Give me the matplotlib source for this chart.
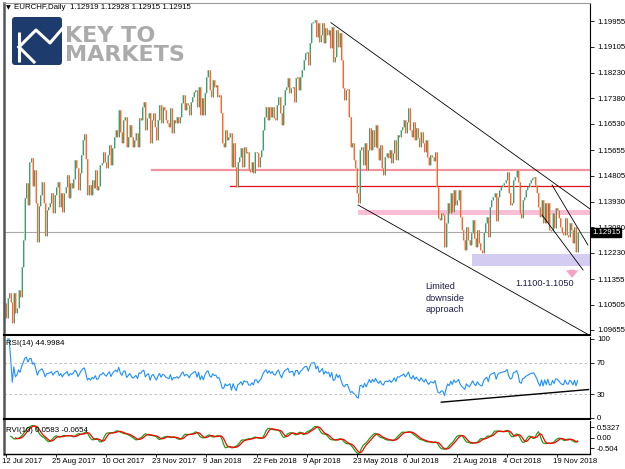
import numpy as np
import matplotlib.pyplot as plt
from matplotlib.patches import FancyBboxPatch
from matplotlib.transforms import blended_transform_factory

plt.rcParams['font.family'] = ['Liberation Sans', 'DejaVu Sans']

# daily closes of EURCHF (open = previous close)
first_open = 1.1056
closes_jul_aug17 = [1.1006, 1.1072, 1.1089, 1.1060, 1.0989, 1.1089, 1.1022, 1.1040, 1.1100, 1.1076,
                    1.1176, 1.1266, 1.1406, 1.1456, 1.1382, 1.1526, 1.1540, 1.1446, 1.1500, 1.1390,
                    1.1259, 1.1379, 1.1416, 1.1459, 1.1389, 1.1280, 1.1366, 1.1376, 1.1390, 1.1423,
                    1.1356, 1.1416, 1.1443, 1.1459, 1.1376, 1.1423, 1.1360, 1.1423, 1.1443, 1.1482,
                    1.1405, 1.1456, 1.1439, 1.1470, 1.1532, 1.1506, 1.1432, 1.1489, 1.1549, 1.1599,
                    1.1620, 1.1536, 1.1416, 1.1450, 1.1416, 1.1466, 1.1440, 1.1499]
closes_oct17_jan18 = [1.1432, 1.1446, 1.1516, 1.1522, 1.1559, 1.1526, 1.1506, 1.1549, 1.1582, 1.1516,
                      1.1572, 1.1609, 1.1633, 1.1609, 1.1700, 1.1626, 1.1589, 1.1666, 1.1676, 1.1576,
                      1.1609, 1.1650, 1.1609, 1.1576, 1.1599, 1.1623, 1.1576, 1.1673, 1.1666, 1.1709,
                      1.1726, 1.1633, 1.1673, 1.1690, 1.1589, 1.1666, 1.1690, 1.1643, 1.1599, 1.1666,
                      1.1716, 1.1656, 1.1709, 1.1700, 1.1666, 1.1656, 1.1643, 1.1706, 1.1623, 1.1666,
                      1.1656, 1.1677, 1.1656, 1.1677, 1.1723, 1.1749, 1.1700, 1.1723, 1.1716, 1.1683,
                      1.1726, 1.1743, 1.1760, 1.1766, 1.1709, 1.1776, 1.1683, 1.1740, 1.1683]
closes_jan_apr18 = [1.1756, 1.1810, 1.1833, 1.1766, 1.1743, 1.1800, 1.1776, 1.1783, 1.1743, 1.1750,
                    1.1690, 1.1589, 1.1576, 1.1633, 1.1599, 1.1609, 1.1623, 1.1509, 1.1590, 1.1509,
                    1.1443, 1.1526, 1.1543, 1.1572, 1.1509, 1.1576, 1.1556, 1.1559, 1.1499, 1.1493,
                    1.1526, 1.1489, 1.1559, 1.1556, 1.1509, 1.1543, 1.1566, 1.1633, 1.1677, 1.1709,
                    1.1666, 1.1709, 1.1677, 1.1709, 1.1673, 1.1666, 1.1716, 1.1743, 1.1690, 1.1650,
                    1.1716, 1.1766, 1.1776, 1.1806, 1.1756, 1.1773, 1.1776, 1.1726, 1.1806, 1.1810,
                    1.1766, 1.1810, 1.1833, 1.1866, 1.1890, 1.1893, 1.1850]
closes_apr_jul18 = [1.1923, 1.1990, 1.1993, 1.2000, 1.1943, 1.1990, 1.1926, 1.1950, 1.1990, 1.1923,
                    1.1973, 1.1950, 1.1966, 1.1906, 1.1976, 1.1860, 1.1876, 1.1966, 1.1910, 1.1956,
                    1.1866, 1.1773, 1.1733, 1.1766, 1.1770, 1.1677, 1.1576, 1.1589, 1.1532, 1.1506,
                    1.1423, 1.1390, 1.1566, 1.1576, 1.1516, 1.1589, 1.1499, 1.1566, 1.1639, 1.1566,
                    1.1633, 1.1576, 1.1650, 1.1572, 1.1532, 1.1582, 1.1506, 1.1482, 1.1543, 1.1556,
                    1.1539, 1.1566, 1.1522, 1.1556, 1.1599, 1.1532, 1.1616, 1.1609, 1.1633, 1.1643,
                    1.1666, 1.1623, 1.1660, 1.1706]
closes_jul_oct18 = [1.1633, 1.1609, 1.1660, 1.1599, 1.1639, 1.1606, 1.1576, 1.1626, 1.1589, 1.1559,
                    1.1599, 1.1543, 1.1516, 1.1549, 1.1543, 1.1530, 1.1559, 1.1443, 1.1339, 1.1332,
                    1.1356, 1.1349, 1.1243, 1.1322, 1.1389, 1.1356, 1.1423, 1.1359, 1.1432, 1.1382,
                    1.1399, 1.1432, 1.1342, 1.1299, 1.1266, 1.1232, 1.1309, 1.1266, 1.1249, 1.1289,
                    1.1332, 1.1272, 1.1243, 1.1299, 1.1256, 1.1232, 1.1222, 1.1292, 1.1322, 1.1342,
                    1.1276, 1.1376, 1.1399, 1.1409, 1.1423, 1.1330, 1.1409, 1.1432, 1.1443, 1.1450,
                    1.1456]
closes_oct_dec18 = [1.1466, 1.1492, 1.1423, 1.1382, 1.1389, 1.1466, 1.1476, 1.1499, 1.1460, 1.1356,
                    1.1340, 1.1399, 1.1409, 1.1432, 1.1443, 1.1456, 1.1466, 1.1472, 1.1475, 1.1450,
                    1.1423, 1.1376, 1.1342, 1.1399, 1.1322, 1.1389, 1.1322, 1.1389, 1.1299, 1.1296,
                    1.1356, 1.1306, 1.1372, 1.1366, 1.1340, 1.1309, 1.1289, 1.1282, 1.1339, 1.1282,
                    1.1276, 1.1322, 1.1300, 1.1256, 1.1309, 1.1226, 1.12915]

closes = np.array(closes_jul_aug17 + closes_oct17_jan18 + closes_jan_apr18
                  + closes_apr_jul18 + closes_jul_oct18 + closes_oct_dec18)
opens = np.concatenate([[first_open], closes[:-1]])
highs = np.maximum(opens, closes)
lows = np.minimum(opens, closes)
n = len(closes)
idx = np.arange(n)

date_labels = ['12 Jul 2017', '25 Aug 2017', '10 Oct 2017', '23 Nov 2017', '9 Jan 2018',
               '22 Feb 2018', '9 Apr 2018', '23 May 2018', '6 Jul 2018', '21 Aug 2018',
               '4 Oct 2018', '19 Nov 2018']
bars_per_label = 32

price_ticks = [1.19955, 1.19105, 1.18230, 1.17380, 1.16530, 1.15655, 1.14805,
               1.13930, 1.13080, 1.12230, 1.11355, 1.10505, 1.09655]
rsi_ticks = [100, 70, 30, 0]
rvi_ticks = [0.5327, 0.0, -0.504]
rvi_tick_labels = ['0.5327', '0.00', '-0.504']

last_price = 1.12915
pink_level, pink_from = 1.1499, 93
red_level, red_from = 1.14465, 143
support_band, support_from = (1.1349, 1.1366), 225
target_band, target_from = (1.1180, 1.1220), 297.6
# trendlines: (bar, price) pairs
trendlines = [((207.5, 1.19904), (373, 1.13690)),
              ((348.7, 1.14491), (371.6, 1.12490)),
              ((342.3, 1.13490), (368.5, 1.11656)),
              ((224.8, 1.13824), (372.3, 1.09488))]
rsi_trend = ((278, 20.0), (372, 36.0))


def rsi(c, period=14):
    d = np.diff(c, prepend=c[0])
    gain = np.clip(d, 0, None)
    loss = np.clip(-d, 0, None)
    ag = np.zeros(len(c))
    al = np.zeros(len(c))
    out = np.full(len(c), np.nan)
    for i in range(1, len(c)):
        if i <= period:
            ag[i] = gain[1:i + 1].mean()
            al[i] = loss[1:i + 1].mean()
        else:
            ag[i] = (ag[i - 1] * (period - 1) + gain[i]) / period
            al[i] = (al[i - 1] * (period - 1) + loss[i]) / period
        out[i] = 100.0 if al[i] == 0 else 100 - 100 / (1 + ag[i] / al[i])
    return out


def rvi(o, h, l, c, period=10):
    w = np.array([1, 2, 2, 1]) / 6
    num = np.convolve(c - o, w)[:len(c)]
    den = np.convolve(h - l, w)[:len(c)]
    main = np.convolve(num, np.ones(period))[:len(c)] / np.convolve(den, np.ones(period))[:len(c)]
    sig = np.convolve(main, w)[:len(c)]
    return main, sig


rsi_vals = rsi(closes)
rvi_main, rvi_sig = rvi(opens, highs, lows, closes)

fig = plt.figure(figsize=(6.25, 4.69), dpi=100)
W, H = 625, 469


def box(x0, y0, x1, y1):
    return [x0 / W, 1 - y1 / H, (x1 - x0) / W, (y1 - y0) / H]


px_bar = 1.566
xl = (-(6 - 4) / px_bar, (590 - 6) / px_bar)

ax = fig.add_axes(box(4, 3, 590, 335))
ax_rsi = fig.add_axes(box(4, 337, 590, 419))
ax_rvi = fig.add_axes(box(4, 421, 590, 454))

for a in (ax, ax_rsi, ax_rvi):
    a.set_xlim(*xl)
    a.yaxis.tick_right()
    a.tick_params(axis='y', labelsize=5.6, length=3, width=0.6, pad=2, colors='black')
    a.spines['left'].set_color('#555555')
    a.spines['left'].set_linewidth(1.8)
    a.spines['right'].set_linewidth(0.8)
    a.set_xticks([])

# candles
up = closes >= opens
dn = ~up
ax.vlines(idx[up] + 0.3, lows[up], highs[up], color='#97d5b8', lw=1.2)
ax.vlines(idx[up], lows[up], highs[up], color='#23895a', lw=0.55)
ax.vlines(idx[dn] + 0.3, lows[dn], highs[dn], color='#ffb092', lw=1.2)
ax.vlines(idx[dn], lows[dn], highs[dn], color='#ff4a0a', lw=0.55)

ax.set_ylim(1.09488, 1.20560)
ax.set_yticks(price_ticks)
ax.set_yticklabels([f'{p:.5f}' for p in price_ticks])
ax.spines['top'].set_color('#999999')
ax.spines['top'].set_linewidth(0.8)
ax.spines['bottom'].set_linewidth(1.5)

# levels and zones
ax.axhline(last_price, color='#a8a8a8', lw=0.8, zorder=1)
ax.plot([pink_from, xl[1]], [pink_level, pink_level], color='#f1939f', lw=1.6, zorder=1)
ax.plot([red_from, xl[1]], [red_level, red_level], color='#e3101a', lw=0.9, zorder=1)
ax.fill_between([support_from, xl[1]], support_band[0], support_band[1],
                color='#f9bdd5', lw=0, zorder=1)
ax.fill_between([target_from, xl[1]], target_band[0], target_band[1],
                color='#d5cdf1', lw=0, zorder=1)
for (x0, y0), (x1, y1) in trendlines:
    ax.plot([x0, x1], [y0, y1], color='black', lw=0.6, zorder=4)

ax.annotate('', xy=(361.5, 1.1130), xytext=(361.5, 1.1176),
            arrowprops=dict(arrowstyle='simple,head_width=1.0,head_length=0.6,tail_width=0.45',
                            color='#f5a3c4', lw=0, mutation_scale=9))
ax.text(325, 1.1122, '1.1100-1.1050', fontsize=6.6, color='#1c1c48', va='center', ha='left')
ax.text(268, 1.1125, 'Limited\ndownside\napproach', fontsize=6.6, color='#1c1c48',
        va='top', ha='left', linespacing=1.35)

trans = blended_transform_factory(ax.transAxes, ax.transData)
ax.text(1.0 + 2 / 586, last_price, '1.12915', transform=trans, fontsize=5.6, color='white',
        va='center', ha='left', clip_on=False, zorder=10,
        bbox=dict(boxstyle='square,pad=0.15', facecolor='black', edgecolor='black'))

# RSI panel
ax_rsi.plot(idx, rsi_vals, color='#1e90ff', lw=0.8)
for lev in (70, 30):
    ax_rsi.axhline(lev, color='#b4b4b4', lw=0.6, ls=(0, (3, 3)))
ax_rsi.plot([rsi_trend[0][0], rsi_trend[1][0]], [rsi_trend[0][1], rsi_trend[1][1]],
            color='black', lw=1.0)
ax_rsi.set_ylim(-1.3, 102.5)
ax_rsi.set_yticks(rsi_ticks)
ax_rsi.set_yticklabels([str(t) for t in rsi_ticks])
ax_rsi.spines['top'].set_visible(False)
ax_rsi.spines['bottom'].set_linewidth(1.5)

# RVI panel
ax_rvi.plot(idx[3:], rvi_main[3:], color='#1aa31a', lw=0.9)
ax_rvi.plot(idx[6:], rvi_sig[6:], color='#ff0000', lw=0.9)
ax_rvi.set_ylim(-0.80, 0.829)
ax_rvi.set_yticks(rvi_ticks)
ax_rvi.set_yticklabels(rvi_tick_labels)
ax_rvi.spines['top'].set_visible(False)
ax_rvi.spines['bottom'].set_linewidth(1.0)

label_pos = [k * bars_per_label for k in range(len(date_labels))]
ax_rvi.set_xticks(label_pos)
ax_rvi.set_xticklabels([])
ax_rvi.tick_params(axis='x', length=2, width=0.6)
tb = blended_transform_factory(ax_rvi.transData, ax_rvi.transAxes)
for pos, lab in zip(label_pos, date_labels):
    ax_rvi.text(pos - 2.5, -0.22, lab, transform=tb, fontsize=5.6, ha='left', va='center',
                clip_on=False)

# header texts
fig.text(6 / W, 1 - 7.5 / H, '\u25bc', fontsize=4.5, va='center', ha='left',
         family=['DejaVu Sans'])
fig.text(14 / W, 1 - 7.5 / H, 'EURCHF,Daily  1.12919 1.12928 1.12915 1.12915',
         fontsize=5.7, va='center', ha='left')
fig.text(6 / W, 1 - 343 / H, 'RSI(14) 44.9984', fontsize=5.7, va='center', ha='left')
fig.text(6 / W, 1 - 430 / H, 'RVI(10) 0.0583 -0.0654', fontsize=5.7, va='center', ha='left')

# logo overlay
ov = fig.add_axes([0, 0, 1, 1])
ov.set_xlim(0, W)
ov.set_ylim(H, 0)
ov.axis('off')
ov.patch.set_visible(False)
ov.add_patch(FancyBboxPatch((12, 17), 50, 48, boxstyle='round,pad=0,rounding_size=3',
                            facecolor='#1d3b6d', edgecolor='none'))
ov.plot([19, 19], [32, 62], color='white', lw=2.2, solid_capstyle='butt')
ov.plot([19, 36, 50, 62], [47, 30, 43, 29], color='white', lw=2.2)
ov.plot([19, 34], [47, 62], color='white', lw=2.2)
ov.text(65, 45.5, 'KEY TO\nMARKETS', fontsize=16, color='#ababab', va='center', ha='left',
        fontweight='bold', linespacing=0.95, family=['DejaVu Sans'])

fig.savefig('out.png', dpi=100)
